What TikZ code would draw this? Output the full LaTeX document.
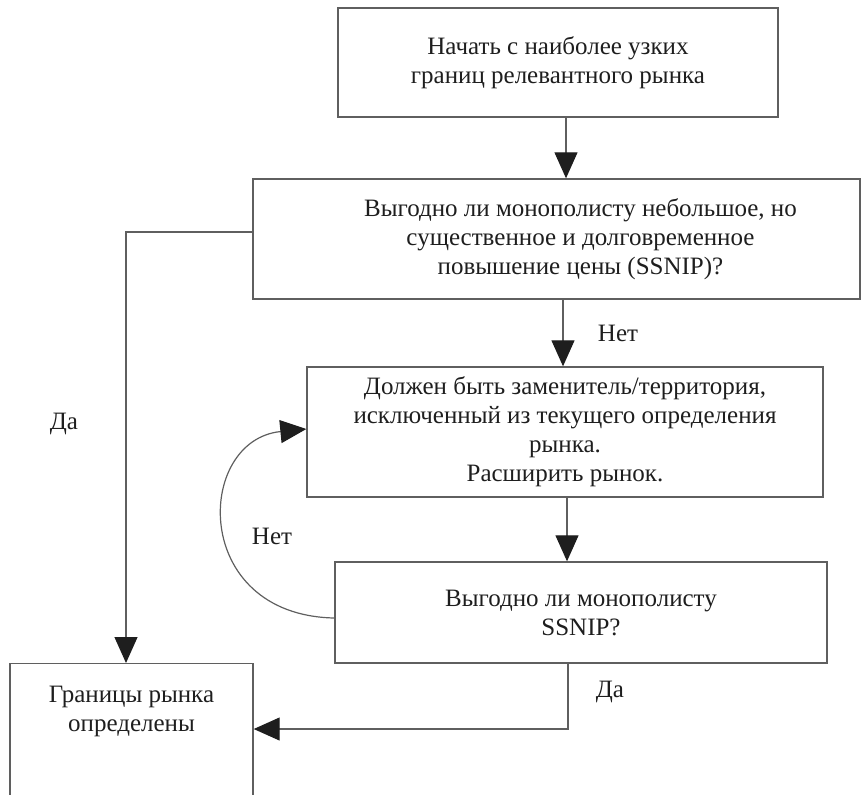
\documentclass[tikz,border=0pt]{standalone}
\usepackage{fontspec}
\setmainfont{Liberation Serif}
\usepackage{tikz}
\usetikzlibrary{arrows.meta, positioning, calc}
\definecolor{linegray}{RGB}{95,95,95}
\definecolor{textdark}{RGB}{30,30,30}
\tikzset{
  box/.style={
    draw=linegray,
    line width=0.7pt,
    align=center,
    inner sep=3pt,
    text=textdark
  },
  arrow/.style={-{Triangle[length=13pt, width=11.5pt, color=textdark]}, draw=linegray, line width=0.6pt},
  lbl/.style={text=textdark, inner sep=0pt}
}

\begin{document}
\begin{tikzpicture}[
    x=0.5pt, y=-0.5pt,
    font=\fontsize{12.5}{14.5}\selectfont
]
\useasboundingbox (0,0) rectangle (861,794);

\node[box, minimum width=220pt, minimum height=54.5pt] (start) at (558,62.5)
{Начать с наиболее узких\\границ релевантного рынка};

\node[box, minimum width=303.5pt, minimum height=60pt] (ssnip) at (556.5,239)
{\hspace*{24pt}Выгодно ли монополисту небольшое, но\\\hspace*{24pt}существенное и долговременное\\\hspace*{24pt}повышение цены (SSNIP)?};

\node[box, minimum width=258pt, minimum height=65pt] (expand) at (565,432)
{Должен быть заменитель/территория,\\исключенный из текущего определения\\рынка.\\Расширить рынок.};

\node[box, minimum width=246pt, minimum height=50.5pt] (ssnipb) at (581,612.5)
{Выгодно ли монополисту\\SSNIP?};

\begin{scope}
\clip (0,0) rectangle (861,794);
\node[box, anchor=north, minimum width=121.5pt, text depth=48pt, inner ysep=11pt] (bounds) at (131.5,663)
{Границы рынка\\определены};
\end{scope}

% labels
\node[lbl] (no1) at (618,333) {Нет};
\node[lbl] (yes1) at (64,424) {Да};
\node[lbl] (no2) at (272,536) {Нет};
\node[lbl] (yes2) at (610,692) {Да};

% connectors
\draw[arrow] (start.south -| 566,0) -- (ssnip.north -| 566,0);
\draw[arrow] (ssnip.south -| 563,0) -- (expand.north -| 563,0);
\draw[arrow] (expand.south -| 567,0) -- (ssnipb.north -| 567,0);
\draw[arrow] (ssnip.west |- 0,232) -| (bounds.north -| 126,0);
\draw[arrow] (ssnipb.south -| 568,0) |- (bounds.east |- 0,729);
\draw[arrow] (ssnipb.west |- 0,618) .. controls (190,615) and (195,440) .. (expand.west |- 0,429);

\end{tikzpicture}
\end{document}
